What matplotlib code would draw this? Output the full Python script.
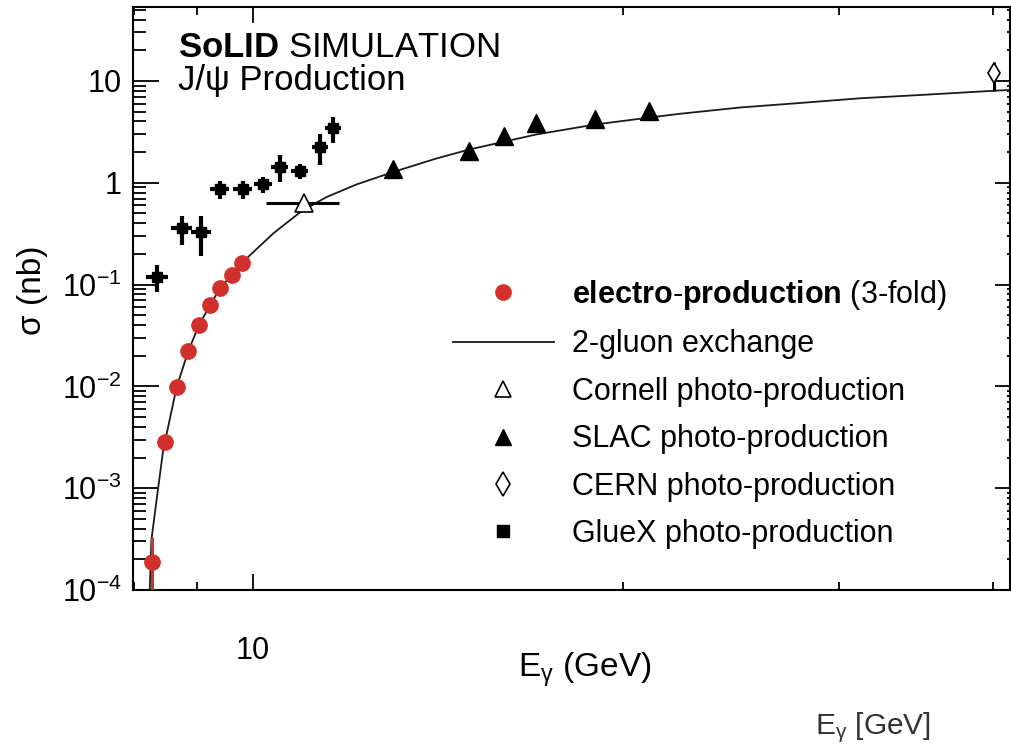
import numpy as np
import matplotlib
matplotlib.use("Agg")
import matplotlib.pyplot as plt
from matplotlib.lines import Line2D
from matplotlib.ticker import FixedLocator, FixedFormatter, LogLocator, NullFormatter

plt.rcParams["font.family"] = ["Liberation Sans", "DejaVu Sans"]
plt.rcParams["mathtext.fontset"] = "custom"
plt.rcParams["mathtext.rm"] = "Liberation Sans"
plt.rcParams["mathtext.it"] = "Liberation Sans:italic"
plt.rcParams["mathtext.bf"] = "Liberation Sans:bold"

# electro-production (SoLID simulation, 3-fold)
electro_E = [8.28, 8.48, 8.67, 8.86, 9.04, 9.23, 9.41, 9.61, 9.80]
electro_sigma = [1.9e-4, 2.84e-3, 9.8e-3, 0.0221, 0.0398, 0.0627, 0.0927, 0.124, 0.164]
electro_err_lo = [1.85e-4, 0, 0, 0, 0, 0, 0, 0, 0]
electro_err_hi = [1.4e-4, 0, 0, 0, 0, 0, 0, 0, 0]

# GlueX photo-production
gluex_E = [8.36, 8.75, 9.08, 9.40, 9.81, 10.19, 10.52, 10.92, 11.34, 11.62]
gluex_sigma = [0.120, 0.357, 0.331, 0.863, 0.863, 0.966, 1.44, 1.31, 2.26, 3.43]
gluex_err = [0.035, 0.11, 0.14, 0.17, 0.17, 0.18, 0.42, 0.22, 0.78, 0.96]
gluex_Eerr = [0.17, 0.17, 0.17, 0.17, 0.17, 0.17, 0.17, 0.17, 0.17, 0.17]

# Cornell photo-production
cornell_E = [11.0]
cornell_sigma = [0.63]
cornell_Eerr = [0.75]

# SLAC photo-production
slac_E = [13.0, 15.0, 16.0, 17.0, 19.0, 21.0]
slac_sigma = [1.36, 2.07, 2.88, 3.84, 4.21, 5.11]

# CERN photo-production
cern_E = [40.1]
cern_sigma = [11.9]
cern_err_lo = [4.0]
cern_err_hi = [3.6]

# 2-gluon exchange curve
curve_E = [8.245, 8.27, 8.375, 8.455, 8.67, 8.86, 9.04, 9.23, 9.41, 9.61, 9.80,
           10.39, 10.96, 11.48, 12.14, 12.97, 14.06, 15.0, 17.0, 19.0, 21.04,
           22.25, 24.91, 27.87, 31.18, 34.89, 40.15, 41.3]
curve_sigma = [1.0e-4, 3.1e-4, 1.0e-3, 2.37e-3, 9.8e-3, 0.0221, 0.0398, 0.0627,
               0.0927, 0.124, 0.164, 0.318, 0.528, 0.724, 0.962, 1.262, 1.713,
               2.124, 2.98, 3.74, 4.38, 4.76, 5.49, 6.08, 6.76, 7.28, 8.03, 8.16]

ytick_vals = [1e-4, 1e-3, 1e-2, 1e-1, 1, 10]
ytick_labels = [r"$10^{-4}$", r"$10^{-3}$", r"$10^{-2}$", r"$10^{-1}$", "1", "10"]

W, H = 1011, 751
fig = plt.figure(figsize=(W / 100, H / 100), dpi=100)
ax = fig.add_axes([133 / W, 161 / H, (1010 - 133) / W, (590 - 7) / H])
ax.set_xscale("log")
ax.set_yscale("log")
ax.set_xlim(7.99, 41.3)
ax.set_ylim(1e-4, 53.3)

red = "#d2302c"
fs = 22

ax.plot(curve_E, curve_sigma, color="#1a1a1a", lw=1.3, zorder=2)

ax.errorbar(electro_E, electro_sigma, yerr=[electro_err_lo, electro_err_hi],
            fmt="o", color=red, ms=11, elinewidth=2.2, capsize=0, zorder=3)
ax.errorbar(gluex_E, gluex_sigma, xerr=gluex_Eerr, yerr=gluex_err, fmt="s",
            color="black", ms=7.5, elinewidth=3, capsize=0, zorder=3)
ax.errorbar(cornell_E, cornell_sigma, xerr=cornell_Eerr, fmt="^", mfc="white",
            mec="black", mew=1.2, color="black", ms=13, elinewidth=2.2, capsize=0, zorder=3)
ax.plot(slac_E, slac_sigma, "^", color="black", ms=13, zorder=3)
ax.errorbar(cern_E, cern_sigma, yerr=[cern_err_lo, cern_err_hi], fmt="d",
            mfc="white", mec="black", mew=1.2, color="black", ms=10,
            elinewidth=2.2, capsize=0, zorder=3)

# axes styling (ROOT-like inward ticks)
ax.yaxis.set_major_locator(FixedLocator(ytick_vals))
ax.yaxis.set_major_formatter(FixedFormatter(ytick_labels))
ax.yaxis.set_minor_locator(LogLocator(base=10, subs=np.arange(2, 10)))
ax.yaxis.set_minor_formatter(NullFormatter())
ax.xaxis.set_major_locator(FixedLocator([10]))
ax.xaxis.set_major_formatter(FixedFormatter(["10"]))
ax.xaxis.set_minor_locator(LogLocator(base=10, subs=np.arange(2, 10)))
ax.xaxis.set_minor_formatter(NullFormatter())

ax.tick_params(axis="y", which="major", direction="in", length=19, width=1.3,
               labelsize=fs, pad=8, left=True, right=False)
ax.tick_params(axis="y", which="minor", direction="in", length=9.5, width=1.3,
               left=True, right=False)
ax.tick_params(axis="x", which="major", direction="in", length=11.5, width=1.3,
               labelsize=fs, pad=33, top=True, bottom=True)
ax.tick_params(axis="x", which="minor", direction="in", length=6, width=1.3,
               top=True, bottom=True)
for sp in ax.spines.values():
    sp.set_linewidth(1.5)

ax2 = ax.secondary_yaxis("right")
ax2.yaxis.set_major_locator(FixedLocator(ytick_vals))
ax2.yaxis.set_minor_locator(LogLocator(base=10, subs=np.arange(2, 10)))
ax2.tick_params(axis="y", which="major", direction="in", length=11, width=1.3,
                labelright=False)
ax2.tick_params(axis="y", which="minor", direction="in", length=2.5, width=1.3)
ax2.yaxis.set_major_formatter(NullFormatter())
ax2.yaxis.set_minor_formatter(NullFormatter())

# texts
fig.text(178 / W, 1 - 57 / H, r"$\mathbf{SoLID}$ SIMULATION", fontsize=25, va="baseline")
fig.text(178 / W, 1 - 90 / H, "J/ψ Production", fontsize=25, va="baseline")
fig.text(518 / W, 1 - 677 / H, r"E$_{\mathrm{\gamma}}$ (GeV)", fontsize=24, va="baseline")
fig.text(33 / W, 1 - 290 / H, "σ (nb)", fontsize=24, rotation=90, ha="center", va="center")
fig.text(815 / W, 1 - 734 / H, r"E$_{\mathrm{\gamma}}$ [GeV]", fontsize=21.5,
         color="#333333", va="baseline")

handles = [
    Line2D([], [], ls="none", marker="o", color=red, ms=11),
    Line2D([], [], color="#1a1a1a", lw=1.3),
    Line2D([], [], ls="none", marker="^", mfc="white", mec="black", mew=1.2, ms=12),
    Line2D([], [], ls="none", marker="^", color="black", ms=12),
    Line2D([], [], ls="none", marker="d", mfc="white", mec="black", mew=1.2, ms=12),
    Line2D([], [], ls="none", marker="s", color="black", ms=8),
]
labels = [
    r"$\mathbf{electro}$-$\mathbf{production}$ (3-fold)",
    "2-gluon exchange",
    "Cornell photo-production",
    "SLAC photo-production",
    "CERN photo-production",
    "GlueX photo-production",
]
fig.legend(handles, labels, loc="upper left", bbox_to_anchor=(453 / W, 1 - 278 / H),
           frameon=False, fontsize=fs, handlelength=3.3, handletextpad=0.6,
           labelspacing=0.57, borderpad=0, borderaxespad=0)

fig.savefig("out.png", dpi=100)
